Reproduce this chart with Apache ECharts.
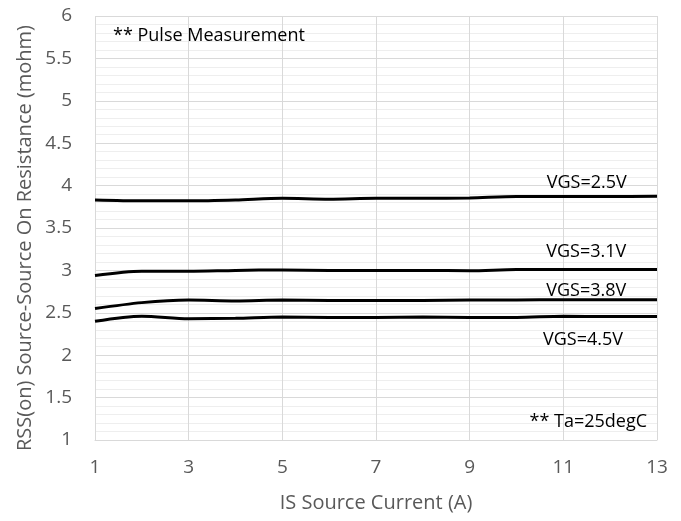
<!DOCTYPE html>
<html>
<head>
<meta charset="utf-8">
<script src="https://cdn.jsdelivr.net/npm/echarts@6/dist/echarts.min.js"></script>
<style>
  html, body { margin: 0; padding: 0; background: #fff; }
  #chart { width: 681px; height: 521px; }
</style>
</head>
<body>
<div id="chart"></div>
<script>
// Source current (A)
const current = [1, 2, 3, 4, 5, 6, 7, 8, 9, 10, 11, 12, 13];

// On-resistance (mohm) per gate-source voltage
const vgs25 = [3.83, 3.82, 3.82, 3.83, 3.85, 3.84, 3.85, 3.85, 3.855, 3.87, 3.87, 3.87, 3.875];
const vgs31 = [2.94, 2.99, 2.99, 3.0, 3.005, 3.0, 3.0, 3.0, 2.995, 3.01, 3.01, 3.01, 3.01];
const vgs38 = [2.55, 2.62, 2.65, 2.64, 2.65, 2.645, 2.645, 2.645, 2.65, 2.65, 2.655, 2.655, 2.655];
const vgs45 = [2.40, 2.46, 2.43, 2.435, 2.45, 2.445, 2.445, 2.45, 2.445, 2.445, 2.46, 2.455, 2.455];

const seriesNames = ['VGS=2.5V', 'VGS=3.1V', 'VGS=3.8V', 'VGS=4.5V'];
const seriesValues = [vgs25, vgs31, vgs38, vgs45];

const xTitle = 'IS Source Current (A)';
const yTitle = 'RSS(on) Source-Source On Resistance (mohm)';

const FONT = '"Open Sans", sans-serif';
const chart = echarts.init(document.getElementById('chart'), null, { renderer: 'canvas' });

const pairs = vals => current.map((x, i) => [x, vals[i]]);

chart.setOption({
  animation: false,
  backgroundColor: '#ffffff',
  grid: { left: 95, right: 24, top: 16, bottom: 81 },
  xAxis: {
    type: 'value',
    min: 1, max: 13, interval: 2,
    axisLine: { show: true, lineStyle: { color: '#d9d9d9', width: 1 } },
    axisTick: { show: false },
    axisLabel: { color: '#595959', fontSize: 19, fontFamily: FONT, margin: 18 },
    splitLine: { show: true, lineStyle: { color: '#d9d9d9', width: 1 } }
  },
  yAxis: {
    type: 'value',
    min: 1, max: 6, interval: 0.5,
    axisLine: { show: false },
    axisTick: { show: false },
    axisLabel: { color: '#595959', fontSize: 19, fontFamily: FONT, margin: 23 },
    splitLine: { show: true, lineStyle: { color: '#d9d9d9', width: 1 } },
    minorTick: { show: false, splitNumber: 5 },
    minorSplitLine: { show: true, lineStyle: { color: '#eeeeee', width: 1 } }
  },
  series: seriesValues.map((vals, i) => ({
    name: seriesNames[i],
    type: 'line',
    data: pairs(vals),
    smooth: 0.3,
    symbol: 'none',
    lineStyle: { color: '#000000', width: 3 }
  }))
});

// Text annotations anchored in data coordinates
const notes = [
  { text: 'VGS=2.5V', at: [11.5, 4.037], align: 'center' },
  { text: 'VGS=3.1V', at: [11.49, 3.223], align: 'center' },
  { text: 'VGS=3.8V', at: [11.49, 2.757], align: 'center' },
  { text: 'VGS=4.5V', at: [11.42, 2.179], align: 'center' },
  { text: '** Pulse Measurement', at: [1.384, 5.764], align: 'left' },
  { text: '** Ta=25degC', at: [12.787, 1.212], align: 'right' }
];

const grid = chart.getModel().getComponent('grid', 0).coordinateSystem.getRect();

chart.setOption({
  graphic: notes.map(n => {
    const p = chart.convertToPixel({ gridIndex: 0 }, n.at);
    return {
      type: 'text',
      x: p[0], y: p[1],
      style: {
        text: n.text,
        fill: '#000000',
        font: '18px ' + FONT,
        align: n.align,
        verticalAlign: 'middle'
      }
    };
  }).concat([
    {
      // x-axis title, centred under the plot
      type: 'text',
      x: grid.x + grid.width / 2, y: 503,
      style: { text: xTitle, fill: '#595959', font: '20px ' + FONT, align: 'center', verticalAlign: 'middle' }
    },
    {
      // y-axis title, rotated
      type: 'text',
      x: 25, y: 238,
      rotation: Math.PI / 2,
      style: { text: yTitle, fill: '#595959', font: '20px ' + FONT, align: 'center', verticalAlign: 'middle' }
    }
  ])
});
</script>
</body>
</html>
